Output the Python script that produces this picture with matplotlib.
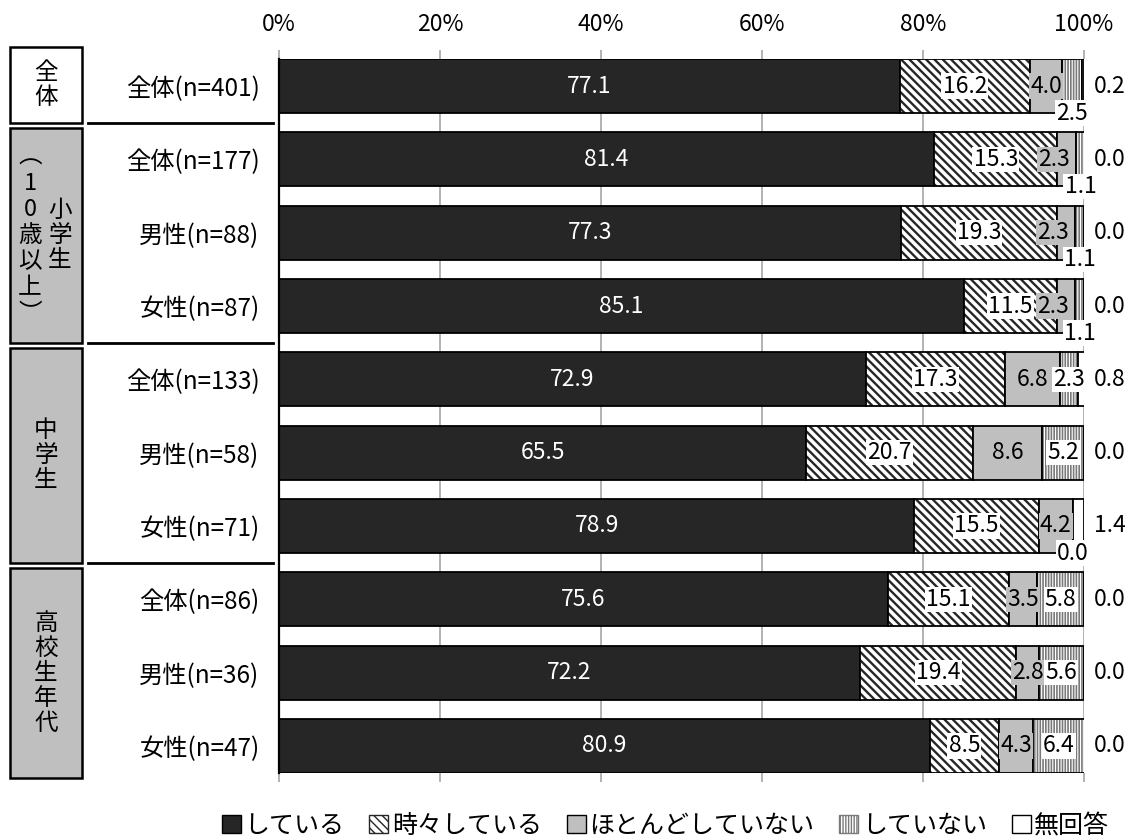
import matplotlib.pyplot as plt
import matplotlib.transforms as mtransforms
from matplotlib.patches import Patch, Rectangle
from matplotlib.lines import Line2D

plt.rcParams['font.family'] = ['Noto Sans CJK JP', 'DejaVu Sans']

# データ
row_labels = ['全体(n=401)', '全体(n=177)', '男性(n=88)', '女性(n=87)',
              '全体(n=133)', '男性(n=58)', '女性(n=71)',
              '全体(n=86)', '男性(n=36)', '女性(n=47)']
series_names = ['している', '時々している', 'ほとんどしていない', 'していない', '無回答']
doing = [77.1, 81.4, 77.3, 85.1, 72.9, 65.5, 78.9, 75.6, 72.2, 80.9]
sometimes = [16.2, 15.3, 19.3, 11.5, 17.3, 20.7, 15.5, 15.1, 19.4, 8.5]
rarely = [4.0, 2.3, 2.3, 2.3, 6.8, 8.6, 4.2, 3.5, 2.8, 4.3]
not_doing = [2.5, 1.1, 1.1, 1.1, 2.3, 5.2, 0.0, 5.8, 5.6, 6.4]
no_answer = [0.2, 0.0, 0.0, 0.0, 0.8, 0.0, 1.4, 0.0, 0.0, 0.0]

group_names = ['全体', '小学生', '中学生', '高校生年代']
group_notes = ['', '︵10歳以上︶', '', '']
group_rows = [(0, 0), (1, 3), (4, 6), (7, 9)]

series = [doing, sometimes, rarely, not_doing, no_answer]

# 系列ごとの塗り
styles = [
    dict(fc='#262626', hatch=None, hc=None, text='white', box=None),
    dict(fc='white', hatch='\\\\\\\\', hc='#262626', text='black', box='white'),
    dict(fc='#bfbfbf', hatch=None, hc=None, text='black', box='#bfbfbf'),
    dict(fc='white', hatch='||||||', hc='#7a7a7a', text='black', box='white'),
    dict(fc='white', hatch=None, hc=None, text='black', box=None),
]

fig = plt.figure(figsize=(11.34, 8.4), dpi=100)
ax = fig.add_axes([279 / 1134, 1 - 773 / 840, 805 / 1134, 714 / 840])

y = list(range(len(row_labels)))
h = 0.737
fs = 16.5
left = [0.0] * len(y)
for k, vals in enumerate(series):
    st = styles[k]
    if st['hatch']:
        with plt.rc_context({'hatch.linewidth': 1.7 if k == 1 else 1.2}):
            ax.barh(y, vals, left=left, height=h, color=st['fc'],
                    edgecolor=st['hc'], hatch=st['hatch'], linewidth=0)
        ax.barh(y, vals, left=left, height=h, fill=False,
                edgecolor='black', linewidth=1.3)
    else:
        ax.barh(y, vals, left=left, height=h, color=st['fc'],
                edgecolor='black', linewidth=1.3)

    for i, v in enumerate(vals):
        txt = f'{v:.1f}'
        cx = left[i] + v / 2
        kw = dict(fontsize=fs, color=st['text'], va='center', ha='center')
        if st['box']:
            kw['bbox'] = dict(boxstyle='square,pad=0.05', fc=st['box'], ec='none')
        if k == 4:
            # 無回答は棒の右外側
            ax.annotate(txt, xy=(100, i), xytext=(7, 0), textcoords='offset points',
                        fontsize=fs, va='center', ha='left', annotation_clip=False)
        elif k == 3 and i in (0, 1, 2, 3, 6):
            # 幅の狭い「していない」は棒の下端に表示
            kw['bbox'] = dict(boxstyle='square,pad=0.05', fc='white', ec='none')
            ax.text(cx, i + h / 2, txt, zorder=5, **kw)
        elif k == 2 and i in (1, 2, 3):
            ax.annotate(txt, xy=(cx, i), xytext=(-9, 0), textcoords='offset points',
                        zorder=4, **kw)
        else:
            ax.text(cx, i, txt, zorder=4, **kw)
    left = [a + b for a, b in zip(left, vals)]

ax.set_xlim(0, 100)
ax.set_ylim(len(y) - 1 + h / 2, -h / 2)
ax.set_xticks(range(0, 101, 20), [f'{t}%' for t in range(0, 101, 20)])
ax.tick_params(axis='x', top=True, bottom=True, labeltop=True, labelbottom=False,
               length=6.5, width=1.2, color='#a6a6a6', labelsize=fs, pad=10)
ax.set_yticks(y, row_labels, fontsize=17.5)
ax.tick_params(axis='y', length=0, pad=14)
ax.grid(axis='x', color='#a6a6a6', linewidth=1.2)
ax.set_axisbelow(True)
for side in ['top', 'right', 'bottom']:
    ax.spines[side].set_visible(False)
ax.spines['left'].set_linewidth(1.6)

# 左側の区分ボックス
trans = mtransforms.blended_transform_factory(fig.transFigure, ax.transData)
box_top = [-0.53, 0.57, 3.57, 6.57]
box_bottom = [0.5, 3.5, 6.5, 9.44]
x0, x1 = 10 / 1134, 82 / 1134
for g, name in enumerate(group_names):
    fc = 'white' if g == 0 else '#bfbfbf'
    ax.add_artist(Rectangle((x0, box_top[g]), x1 - x0, box_bottom[g] - box_top[g],
                            transform=trans, facecolor=fc, edgecolor='black',
                            linewidth=1.8, clip_on=False))
    yc = (box_top[g] + box_bottom[g]) / 2
    note = group_notes[g]
    xc = 60 / 1134 if note else 46 / 1134
    n = len(name)
    for j, ch in enumerate(name):
        off = (j - (n - 1) / 2) * 18
        ax.annotate(ch, xy=(xc, yc), xycoords=trans, xytext=(0, -off),
                    textcoords='offset points', ha='center', va='center',
                    fontsize=17, annotation_clip=False)
    if note:
        m = len(note)
        for j, ch in enumerate(note):
            off = (j - (m - 1) / 2) * 18.7
            ax.annotate(ch, xy=(30 / 1134, yc), xycoords=trans, xytext=(0, -off),
                        textcoords='offset points', ha='center', va='center',
                        fontsize=17, annotation_clip=False)

# 区分の境界線
for b in box_bottom[:-1]:
    ax.add_artist(Line2D([88 / 1134, 273 / 1134], [b, b], transform=trans,
                         color='black', linewidth=2, clip_on=False))

# 凡例
handles = []
for st in styles:
    handles.append(Patch(facecolor=st['fc'], edgecolor=st['hc'] or 'black',
                         hatch=st['hatch'], linewidth=1))
leg = fig.legend(handles, series_names, loc='center', bbox_to_anchor=(0.587, 0.017),
                 ncol=5, frameon=False, fontsize=18, handlelength=0.75,
                 handleheight=0.75, handletextpad=0.15, columnspacing=1.0)

fig.savefig('out.png', dpi=100)
